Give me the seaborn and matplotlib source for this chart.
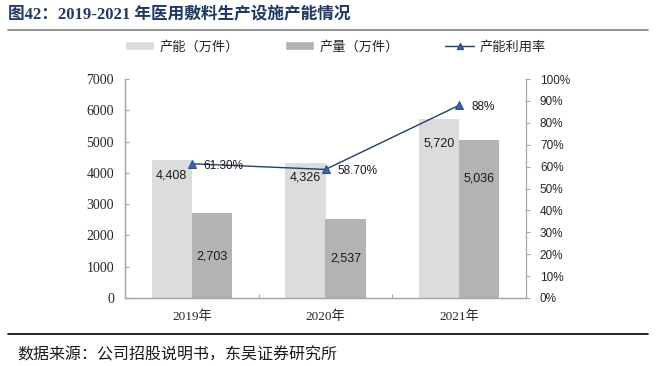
import numpy as np
import pandas as pd
import matplotlib
matplotlib.use('Agg')
import matplotlib.pyplot as plt
from matplotlib.patches import Patch
from matplotlib.lines import Line2D
from matplotlib.ticker import PercentFormatter
import seaborn as sns

# données
years = ['2019年', '2020年', '2021年']
capacity = [4408, 4326, 5720]        # 产能（万件）
output = [2703, 2537, 5036]          # 产量（万件）
util_rate = [61.30, 58.70, 88.0]     # 产能利用率 (%)
util_labels = ['61.30%', '58.70%', '88%']
series_names = ['产能（万件）', '产量（万件）', '产能利用率']

# décalage vertical des étiquettes sous le haut des barres (pixels)
label_offsets = [[-15, -15, -24], [-43, -40, -38]]

sns.set_theme(style='white')
plt.rcParams['font.family'] = ['Liberation Sans', 'Noto Sans CJK SC']
serif = ['Liberation Serif', 'Noto Sans CJK SC']

df = pd.DataFrame({
    'year': years * 2,
    'value': capacity + output,
    'series': [series_names[0]] * 3 + [series_names[1]] * 3,
})

bar_colors = ['#DCDCDC', '#B3B3B3']
line_color = '#1F3F6E'
spine_color = '#A6A6A6'

fig = plt.figure(figsize=(6.64, 3.66), dpi=100)
ax = fig.add_axes([125 / 664, 1 - 298 / 366, 401 / 664, 219 / 366])

sns.barplot(data=df, x='year', y='value', hue='series', palette=bar_colors,
            width=0.6, saturation=1, linewidth=0, legend=False, ax=ax)
ax.set_ylim(0, 7000)
ax.set_yticks(range(0, 7001, 1000))
ax.set_xlim(-0.5, 2.5)
ax.set_xlabel('')
ax.set_ylabel('')

for cont, offs in zip(ax.containers, label_offsets):
    for bar, off in zip(cont, offs):
        ax.annotate(f'{int(bar.get_height()):,}',
                    (bar.get_x() + bar.get_width() / 2, bar.get_height()),
                    xytext=(0, off), textcoords='offset pixels',
                    ha='center', va='center', fontsize=9, color='#1A1A1A')

# axe secondaire
ax2 = ax.twinx()
x_pos = np.arange(len(years))
sns.lineplot(x=x_pos, y=util_rate, ax=ax2, color=line_color, linewidth=1,
             marker='^', markersize=6, markerfacecolor='#3A66B0',
             markeredgecolor='#2B4F8C')
ax2.set_ylim(0, 100)
ax2.set_yticks(range(0, 101, 10))
ax2.yaxis.set_major_formatter(PercentFormatter(decimals=0))
ax2.set_xlim(-0.5, 2.5)
for xp, v, lbl in zip(x_pos, util_rate, util_labels):
    ax2.annotate(lbl, (xp, v), xytext=(12, -2), textcoords='offset pixels',
                 ha='left', va='center', fontsize=8.5, color='#1A1A1A')

# style des axes
for a in (ax, ax2):
    for s in a.spines.values():
        s.set_color(spine_color)
        s.set_linewidth(0.9)
    a.spines['top'].set_visible(False)
ax.spines['right'].set_visible(False)

ax.tick_params(axis='y', direction='in', length=3, width=0.8, color=spine_color,
               pad=8, labelsize=10, left=True)
for t in ax.get_yticklabels():
    t.set_family(serif)
ax.tick_params(axis='x', length=0, pad=9, labelsize=9.5)
for t in ax.get_xticklabels():
    t.set_family(serif)
ax.set_xticks([0.5, 1.5], minor=True)
ax.tick_params(axis='x', which='minor', direction='in', length=3, width=0.8,
               color=spine_color, bottom=True)

ax2.tick_params(axis='y', direction='out', length=3, width=0.8, color=spine_color,
                pad=7, labelsize=8.5, right=True)

# légende
handles = [Patch(facecolor=bar_colors[0]), Patch(facecolor=bar_colors[1]),
           Line2D([0], [0], color=line_color, lw=1, marker='^', markersize=5,
                  markerfacecolor='#3A66B0', markeredgecolor='#2B4F8C')]
fig.legend(handles, series_names, loc='center', bbox_to_anchor=(0.505, 1 - 47 / 366),
           ncol=3, frameon=False, columnspacing=3.5, handlelength=2.2,
           handletextpad=0.4, fontsize=9.5)

# titre, source et filets
fig.text(8 / 664, 1 - 15 / 366, '图42：2019-2021 年医用敷料生产设施产能情况',
         ha='left', va='center', fontsize=12, fontweight='bold',
         color='#1F3864', family=serif)
fig.add_artist(Line2D([8 / 664, 648 / 664], [1 - 29.7 / 366] * 2,
                      color='#7F7F7F', lw=1.2))
fig.add_artist(Line2D([8 / 664, 648 / 664], [1 - 333.7 / 366] * 2,
                      color='black', lw=1.2))
fig.text(17 / 664, 1 - 355 / 366, '数据来源：公司招股说明书，东吴证券研究所',
         ha='left', va='center', fontsize=11.5, color='#1A1A1A',
         family=['Noto Sans CJK SC'])

fig.savefig('out.png', dpi=100)
